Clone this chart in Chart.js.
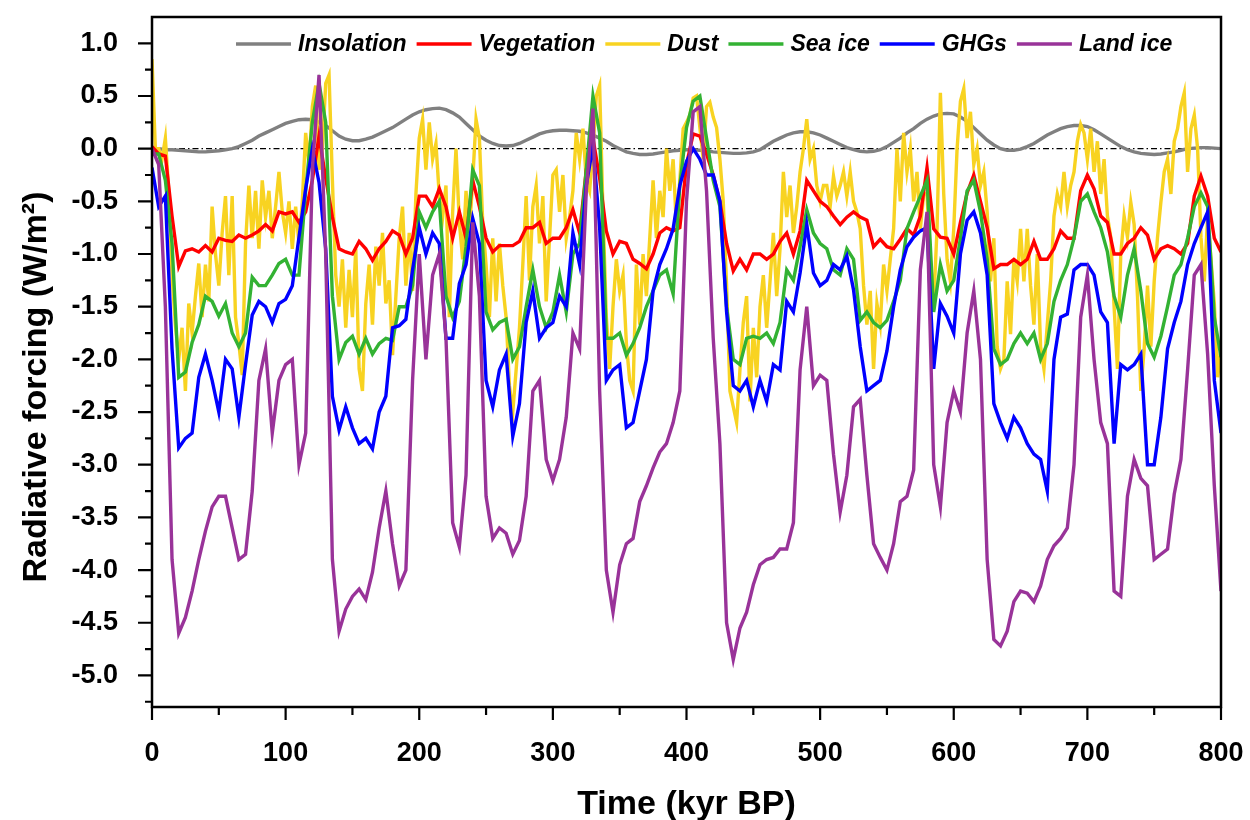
<!DOCTYPE html>
<html>
<head>
<meta charset="utf-8">
<script src="https://cdn.jsdelivr.net/npm/chart.js@4.4.0/dist/chart.umd.min.js"></script>
<style>
  html, body { margin: 0; padding: 0; background: #fff; }
  #wrap { width: 1250px; height: 820px; }
</style>
</head>
<body>
<div id="wrap"><canvas id="grafico" width="1250" height="820"></canvas></div>
<script>
// time axis (kyr BP), 5 kyr steps
const time = [
  0, 5, 10, 15, 20, 25, 30, 35, 40, 45,
  50, 55, 60, 65, 70, 75, 80, 85, 90, 95,
  100, 105, 110, 115, 120, 125, 130, 135, 140, 145,
  150, 155, 160, 165, 170, 175, 180, 185, 190, 195,
  200, 205, 210, 215, 220, 225, 230, 235, 240, 245,
  250, 255, 260, 265, 270, 275, 280, 285, 290, 295,
  300, 305, 310, 315, 320, 325, 330, 335, 340, 345,
  350, 355, 360, 365, 370, 375, 380, 385, 390, 395,
  400, 405, 410, 415, 420, 425, 430, 435, 440, 445,
  450, 455, 460, 465, 470, 475, 480, 485, 490, 495,
  500, 505, 510, 515, 520, 525, 530, 535, 540, 545,
  550, 555, 560, 565, 570, 575, 580, 585, 590, 595,
  600, 605, 610, 615, 620, 625, 630, 635, 640, 645,
  650, 655, 660, 665, 670, 675, 680, 685, 690, 695,
  700, 705, 710, 715, 720, 725, 730, 735, 740, 745,
  750, 755, 760, 765, 770, 775, 780, 785, 790, 795,
  800
];

const insolation = [
  0.0, 0.0, -0.01, -0.01, -0.015, -0.02, -0.025, -0.03, -0.03, -0.025,
  -0.02, -0.01, 0.0, 0.02, 0.05, 0.08, 0.12, 0.15, 0.18, 0.21,
  0.24, 0.26, 0.275, 0.28, 0.275, 0.25, 0.22, 0.17, 0.12, 0.09,
  0.075, 0.075, 0.09, 0.11, 0.14, 0.17, 0.2, 0.24, 0.28, 0.32,
  0.35, 0.37, 0.38, 0.385, 0.37, 0.34, 0.3, 0.24, 0.18, 0.12,
  0.08, 0.05, 0.03, 0.025, 0.03, 0.05, 0.08, 0.11, 0.14, 0.16,
  0.17, 0.175, 0.175, 0.17, 0.165, 0.15, 0.13, 0.1, 0.07, 0.03,
  0.0, -0.03, -0.045, -0.055, -0.055, -0.05, -0.04, -0.03, -0.02, -0.015,
  -0.01, -0.01, -0.015, -0.02, -0.03, -0.035, -0.04, -0.045, -0.045, -0.04,
  -0.03, -0.01, 0.03, 0.07, 0.1, 0.13, 0.15, 0.16, 0.16, 0.15,
  0.13, 0.1, 0.07, 0.04, 0.01, -0.01, -0.025, -0.03, -0.025, -0.01,
  0.02, 0.06, 0.1, 0.15, 0.19, 0.24, 0.28, 0.31, 0.33, 0.335,
  0.33, 0.3, 0.26, 0.2, 0.14, 0.08, 0.035, 0.0, -0.015, -0.015,
  -0.005, 0.02, 0.05, 0.09, 0.13, 0.16, 0.19, 0.21, 0.22, 0.22,
  0.21, 0.18, 0.14, 0.1, 0.06, 0.02, -0.01, -0.03, -0.045, -0.05,
  -0.055, -0.05, -0.04, -0.03, -0.015, 0.0, 0.005, 0.01, 0.01, 0.005,
  0.0
];

const vegetation = [
  0.02, -0.05, -0.07, -0.64, -1.12, -0.97, -0.95, -0.98, -0.92, -0.98,
  -0.85, -0.87, -0.88, -0.82, -0.85, -0.82, -0.78, -0.72, -0.78, -0.6,
  -0.62, -0.6, -0.7, -0.6, -0.3, 0.12, -0.28, -0.65, -0.95, -0.98,
  -1.0, -0.88, -0.95, -1.06, -0.95, -0.88, -0.78, -0.82, -1.0, -0.85,
  -0.45, -0.45, -0.55, -0.38, -0.55, -0.85, -0.6, -0.85, -0.3, -0.55,
  -0.85, -0.98, -0.92, -0.92, -0.92, -0.88, -0.75, -0.75, -0.7, -0.9,
  -0.85, -0.85, -0.75, -0.58, -0.8, -0.2, 0.1, -0.28, -0.78, -1.0,
  -0.88, -0.9, -1.05, -1.09, -1.14, -1.0, -0.8, -0.75, -0.78, -0.75,
  -0.15, 0.14, 0.12, -0.05, -0.25, -0.5, -0.9, -1.16, -1.05, -1.15,
  -1.0, -1.0, -1.05, -1.0, -0.88, -0.8, -1.0, -0.78, -0.3, -0.4,
  -0.5, -0.55, -0.64, -0.72, -0.65, -0.6, -0.65, -0.68, -0.93, -0.86,
  -0.93, -0.95, -0.86, -0.76, -0.82, -0.64, -0.18, -0.76, -0.84, -0.85,
  -1.0, -0.7, -0.42, -0.25, -0.5, -0.75, -1.14, -1.1, -1.1, -1.05,
  -1.1, -1.05, -0.88, -1.05, -1.05, -0.95, -0.78, -0.85, -0.85, -0.4,
  -0.25, -0.38, -0.64, -0.7, -1.0, -1.0, -0.9, -0.85, -0.75, -0.82,
  -1.05, -0.95, -0.92, -0.95, -1.0, -0.9, -0.45, -0.26, -0.45, -0.85,
  -0.98
];

const seaIce = [
  -0.05, -0.05, -0.3, -0.9, -2.17, -2.12, -1.84, -1.67, -1.4, -1.45,
  -1.59, -1.47, -1.75, -1.88, -1.75, -1.22, -1.3, -1.3, -1.2, -1.09,
  -1.05, -1.2, -1.2, -0.4, 0.25, 0.62, 0.25, -1.4, -2.0, -1.84,
  -1.78, -1.95, -1.8, -1.95, -1.85, -1.8, -1.82, -1.5, -1.5, -1.3,
  -0.6, -0.75, -0.6, -0.5, -1.4, -1.6, -1.45, -0.93, -0.2, -0.35,
  -1.55, -1.72, -1.65, -1.62, -2.0, -1.88, -1.5, -1.15, -1.5, -1.7,
  -1.55, -1.2, -1.55, -1.0, -0.9, -0.2, 0.5, 0.15, -1.8, -1.8,
  -1.75, -1.96, -1.85, -1.7, -1.5, -1.35, -1.2, -1.15, -1.38, -0.35,
  0.2, 0.45, 0.5, 0.1, -0.3, -0.55, -1.5, -2.0, -2.05, -1.8,
  -1.78, -1.8, -1.75, -1.85, -1.65, -1.15, -1.25, -0.93, -0.58, -0.8,
  -0.9, -0.95, -1.15, -1.2, -0.95, -1.05, -1.63, -1.55, -1.65, -1.7,
  -1.63, -1.45, -1.25, -0.76, -0.6, -0.45, -0.3, -1.55, -1.1, -1.35,
  -1.25, -0.85, -0.4, -0.3, -0.6, -1.05, -1.9, -2.05, -2.0, -1.85,
  -1.75, -1.85, -1.75, -2.0, -1.85, -1.45, -1.25, -1.1, -0.85, -0.5,
  -0.43, -0.6, -0.75, -0.98, -1.4, -1.6, -1.2, -0.95, -1.35, -1.85,
  -1.98, -1.78, -1.5, -1.2, -1.1, -0.85, -0.55, -0.42, -0.55, -1.6,
  -1.98
];

const ghgs = [
  -0.18, -0.55, -0.45, -1.9, -2.84, -2.75, -2.7, -2.17, -1.95, -2.2,
  -2.5, -2.0, -2.09, -2.55, -2.05, -1.58, -1.45, -1.5, -1.65, -1.47,
  -1.43, -1.3, -0.84, -0.38, 0.0, -0.32, -0.95, -2.35, -2.67, -2.45,
  -2.65, -2.8, -2.75, -2.85, -2.5, -2.35, -1.7, -1.68, -1.62, -1.15,
  -0.75, -1.0, -0.8, -0.9, -1.8, -1.8, -1.28, -1.1, -0.66, -0.9,
  -2.2, -2.45, -2.1, -1.95, -2.73, -2.42, -1.65, -1.35, -1.8, -1.7,
  -1.65, -1.4, -1.5, -0.8, -1.1, -0.35, 0.03, -0.75, -2.2, -2.1,
  -2.05, -2.65, -2.6, -2.3, -2.0, -1.35, -1.1, -0.95, -0.76, -0.35,
  -0.12, 0.0, -0.1, -0.25, -0.25, -0.5, -1.55, -2.25, -2.3, -2.2,
  -2.45, -2.2, -2.4, -2.05, -2.1, -1.45, -1.55, -1.18, -0.72, -1.18,
  -1.3, -1.25, -1.1, -1.15, -1.02, -1.34, -1.88, -2.3, -2.25, -2.2,
  -1.92, -1.5, -1.15, -0.93, -0.84, -0.78, -0.75, -2.09, -1.47, -1.59,
  -1.75, -1.0, -0.68, -0.6, -0.8, -1.2, -2.42, -2.6, -2.75, -2.55,
  -2.65, -2.8, -2.9, -2.95, -3.25, -2.0, -1.6, -1.57, -1.15, -1.1,
  -1.1, -1.2, -1.55, -1.65, -2.8, -2.05, -2.1, -2.05, -1.95, -3.0,
  -3.0, -2.55, -1.9, -1.65, -1.45, -1.1, -0.9, -0.75, -0.6, -2.2,
  -2.7
];

const landIce = [
  0.0, -0.15, -1.5, -3.9, -4.6, -4.45, -4.2, -3.9, -3.63, -3.4,
  -3.3, -3.3, -3.6, -3.9, -3.85, -3.25, -2.2, -1.9, -2.7, -2.2,
  -2.05, -2.0, -3.0, -2.7, -0.2, 0.7, -1.0, -3.9, -4.58, -4.37,
  -4.25, -4.18, -4.28, -4.02, -3.6, -3.25, -3.75, -4.15, -4.0, -2.2,
  -1.0, -2.0, -1.2, -1.0, -1.8, -3.55, -3.78, -3.1, -0.7, -1.4,
  -3.3, -3.7, -3.6, -3.65, -3.85, -3.72, -3.3, -2.3, -2.2, -2.95,
  -3.15, -2.95, -2.55, -1.75, -1.9, -0.4, 0.38, -2.3, -4.0, -4.4,
  -3.95, -3.75, -3.7, -3.35, -3.2, -3.03, -2.88, -2.8, -2.6, -2.3,
  -0.5, 0.35, 0.4, -0.4, -1.8, -2.8, -4.5, -4.85, -4.55, -4.4,
  -4.14, -3.95, -3.9, -3.88, -3.8, -3.8, -3.55, -2.1, -1.5, -2.25,
  -2.15, -2.2, -2.9, -3.45, -3.1, -2.45, -2.38, -3.1, -3.75, -3.88,
  -4.0, -3.75, -3.35, -3.3, -3.05, -1.15, -0.6, -3.0, -3.4, -2.6,
  -2.3, -2.5, -1.75, -1.35, -2.0, -3.9, -4.66, -4.72, -4.58, -4.3,
  -4.2, -4.22, -4.3, -4.15, -3.9, -3.77, -3.7, -3.6, -3.0, -1.6,
  -1.2, -2.0, -2.6, -2.8, -4.2, -4.25, -3.3, -2.95, -3.13, -3.2,
  -3.9, -3.85, -3.8, -3.28, -2.95, -2.1, -1.2, -1.1, -1.95, -3.2,
  -4.2
];

// dust is noisier, read at 2.5 kyr steps
const dustTime = [
  0, 2.5, 5, 7.5, 10, 12.5, 15, 17.5, 20, 22.5, 25, 27.5, 30, 32.5, 35, 37.5, 40, 42.5, 45, 47.5,
  50, 52.5, 55, 57.5, 60, 62.5, 65, 67.5, 70, 72.5, 75, 77.5, 80, 82.5, 85, 87.5, 90, 92.5, 95, 97.5,
  100, 102.5, 105, 107.5, 110, 112.5, 115, 117.5, 120, 122.5, 125, 127.5, 130, 132.5, 135, 137.5, 140, 142.5, 145, 147.5,
  150, 152.5, 155, 157.5, 160, 162.5, 165, 167.5, 170, 172.5, 175, 177.5, 180, 182.5, 185, 187.5, 190, 192.5, 195, 197.5,
  200, 202.5, 205, 207.5, 210, 212.5, 215, 217.5, 220, 222.5, 225, 227.5, 230, 232.5, 235, 237.5, 240, 242.5, 245, 247.5,
  250, 252.5, 255, 257.5, 260, 262.5, 265, 267.5, 270, 272.5, 275, 277.5, 280, 282.5, 285, 287.5, 290, 292.5, 295, 297.5,
  300, 302.5, 305, 307.5, 310, 312.5, 315, 317.5, 320, 322.5, 325, 327.5, 330, 332.5, 335, 337.5, 340, 342.5, 345, 347.5,
  350, 352.5, 355, 357.5, 360, 362.5, 365, 367.5, 370, 372.5, 375, 377.5, 380, 382.5, 385, 387.5, 390, 392.5, 395, 397.5,
  400, 402.5, 405, 407.5, 410, 412.5, 415, 417.5, 420, 422.5, 425, 427.5, 430, 432.5, 435, 437.5, 440, 442.5, 445, 447.5,
  450, 452.5, 455, 457.5, 460, 462.5, 465, 467.5, 470, 472.5, 475, 477.5, 480, 482.5, 485, 487.5, 490, 492.5, 495, 497.5,
  500, 502.5, 505, 507.5, 510, 512.5, 515, 517.5, 520, 522.5, 525, 527.5, 530, 532.5, 535, 537.5, 540, 542.5, 545, 547.5,
  550, 552.5, 555, 557.5, 560, 562.5, 565, 567.5, 570, 572.5, 575, 577.5, 580, 582.5, 585, 587.5, 590, 592.5, 595, 597.5,
  600, 602.5, 605, 607.5, 610, 612.5, 615, 617.5, 620, 622.5, 625, 627.5, 630, 632.5, 635, 637.5, 640, 642.5, 645, 647.5,
  650, 652.5, 655, 657.5, 660, 662.5, 665, 667.5, 670, 672.5, 675, 677.5, 680, 682.5, 685, 687.5, 690, 692.5, 695, 697.5,
  700, 702.5, 705, 707.5, 710, 712.5, 715, 717.5, 720, 722.5, 725, 727.5, 730, 732.5, 735, 737.5, 740, 742.5, 745, 747.5,
  750, 752.5, 755, 757.5, 760, 762.5, 765, 767.5, 770, 772.5, 775, 777.5, 780, 782.5, 785, 787.5, 790, 792.5, 795, 797.5,
  800
];

const dust = [
  0.85, 0.0, 0.0, -0.1, 0.1, -0.4, -1.2, -1.67, -2.0, -1.7, -2.3, -1.47, -1.75, -1.4, -1.09, -1.6, -1.1, -1.45, -0.55, -1.0,
  -1.3, -0.8, -0.45, -1.2, -0.45, -1.6, -1.85, -2.15, -0.9, -0.35, -0.85, -0.4, -0.95, -0.3, -0.65, -0.4, -0.85, -0.55, -0.22, -0.6,
  -0.8, -0.5, -0.95, -0.55, -0.9, -0.5, 0.15, -0.15, 0.4, 0.6, -0.2, 0.0, 0.62, 0.7, -0.3, -1.2, -1.5, -1.05, -1.7, -1.15,
  -1.6, -0.95, -2.09, -2.3, -1.47, -1.1, -1.67, -0.93, -1.3, -0.8, -1.47, -1.25, -1.96, -1.4, -0.85, -0.55, -1.3, -0.8, -1.35, -0.43,
  0.1, 0.28, -0.2, 0.25, -0.1, 0.05, -0.45, -0.65, -0.35, -1.6, -0.6, 0.0, -0.7, -1.05, -0.4, -0.8, -0.3, 0.28, 0.1, -0.7,
  -1.1, -1.6, -0.85, -1.45, -0.9, -1.3, -1.6, -2.25, -2.5, -2.1, -1.7, -1.1, -0.45, -1.25, -0.55, -0.35, -0.9, -0.45, -1.45, -0.85,
  -0.25, -0.2, -0.6, -0.25, -0.85, -0.65, -0.4, 0.15, -0.1, 0.19, -0.3, -0.4, 0.0, 0.5, 0.6, -0.6, -1.6, -2.09, -1.5, -1.05,
  -1.35, -1.2, -1.85, -2.2, -2.3, -1.1, -1.67, -1.0, -1.4, -0.85, -0.3, -0.85, -0.4, -0.65, 0.0, -0.4, -0.1, -0.75, -0.3, 0.19,
  0.25, 0.32, 0.48, 0.5, 0.2, -0.1, 0.4, 0.44, 0.3, 0.2, -0.1, -0.5, -1.3, -2.3, -2.45, -2.6, -2.1, -1.65, -1.4, -2.4,
  -1.7, -2.17, -1.5, -1.2, -1.7, -1.26, -0.8, -1.4, -0.95, -0.22, -0.65, -0.35, -0.8, -0.55, -0.22, 0.0, 0.28, -0.1, 0.0, -0.35,
  -0.5, -0.35, -0.35, -0.55, -0.26, -0.45, -0.35, -0.22, -0.45, -0.22, -0.5, -0.6, -0.76, -1.3, -1.67, -1.35, -2.09, -1.47, -1.67, -1.1,
  -1.35, -1.05, -0.76, 0.0, -0.5, 0.15, -0.22, 0.0, -0.5, -0.22, -0.76, -0.43, -0.43, -1.05, -1.47, -0.76, 0.53, -0.43, -1.05, -1.26,
  -0.76, 0.0, 0.45, 0.57, 0.1, 0.35, -0.15, 0.0, -0.35, -0.22, -0.6, -1.26, -0.85, -1.88, -2.09, -2.0, -1.26, -1.76, -1.05, -1.26,
  -0.76, -1.26, -0.76, -1.3, -1.67, -1.0, -1.88, -2.09, -1.67, -1.26, -0.64, -0.43, -0.55, -0.22, -0.55, -0.35, -0.22, 0.07, 0.23, 0.15,
  -0.1, 0.19, -0.22, 0.07, -0.43, -0.1, -0.64, -0.84, -1.5, -2.09, -1.0, -0.64, -0.84, -0.51, -0.72, -1.4, -2.3, -1.9, -1.3, -1.88,
  -1.26, -0.84, -0.51, -0.22, -0.1, -0.43, 0.07, 0.19, 0.4, 0.53, -0.22, 0.19, 0.32, 0.0, -0.84, -1.26, -0.64, -1.05, -1.47, -2.17,
  -1.9
];

const zeroLine = [0, 0];
const zeroTime = [0, 800];

const xMajorTicks = [0, 100, 200, 300, 400, 500, 600, 700, 800];
const xMinorTicks = [50, 150, 250, 350, 450, 550, 650, 750];
const yMajorTicks = [-5.0, -4.5, -4.0, -3.5, -3.0, -2.5, -2.0, -1.5, -1.0, -0.5, 0.0, 0.5, 1.0];
const yMinorTicks = [-5.25, -4.75, -4.25, -3.75, -3.25, -2.75, -2.25, -1.75, -1.25, -0.75, -0.25, 0.25, 0.75];

const FONTE = '"Liberation Sans", Arial, Helvetica, sans-serif';

function pares(xs, ys) {
  return xs.map((x, i) => ({ x: x, y: ys[i] }));
}

// tick marks, frame and y title
const eixos = {
  id: 'eixos',
  afterDraw(chart) {
    const { ctx, chartArea: a, scales: { x, y } } = chart;
    ctx.save();
    ctx.strokeStyle = '#000';
    ctx.lineWidth = 2.2;
    ctx.beginPath();
    xMajorTicks.forEach(v => {
      const px = x.getPixelForValue(v);
      ctx.moveTo(px, a.bottom); ctx.lineTo(px, a.bottom + 13);
    });
    xMinorTicks.forEach(v => {
      const px = x.getPixelForValue(v);
      ctx.moveTo(px, a.bottom); ctx.lineTo(px, a.bottom + 8);
    });
    yMajorTicks.forEach(v => {
      const py = y.getPixelForValue(v);
      ctx.moveTo(a.left, py); ctx.lineTo(a.left - 14, py);
    });
    yMinorTicks.forEach(v => {
      const py = y.getPixelForValue(v);
      ctx.moveTo(a.left, py); ctx.lineTo(a.left - 7, py);
    });
    ctx.stroke();

    ctx.lineWidth = 2.5;
    ctx.strokeRect(a.left, a.top, a.right - a.left, a.bottom - a.top);

    ctx.translate(37, 387);
    ctx.rotate(-Math.PI / 2);
    ctx.font = 'bold 34px ' + FONTE;
    ctx.fillStyle = '#000';
    ctx.textAlign = 'center';
    ctx.textBaseline = 'middle';
    ctx.fillText('Radiative forcing (W/m²)', 0, 0);
    ctx.restore();
  }
};

// legend drawn inside the plot area
const legenda = {
  id: 'legenda',
  afterDraw(chart) {
    const ctx = chart.ctx;
    ctx.save();
    ctx.font = 'italic bold 23px ' + FONTE;
    ctx.textBaseline = 'middle';
    let x = 236;
    const y = 44;
    chart.data.datasets.forEach(ds => {
      if (ds.semLegenda) return;
      ctx.strokeStyle = ds.borderColor;
      ctx.lineWidth = 3.5;
      ctx.beginPath();
      ctx.moveTo(x, y);
      ctx.lineTo(x + 55, y);
      ctx.stroke();
      x += 62;
      ctx.fillStyle = '#000';
      ctx.fillText(ds.label, x, y + 1);
      x += ctx.measureText(ds.label).width + 10;
    });
    ctx.restore();
  }
};

const ctx = document.getElementById('grafico').getContext('2d');
new Chart(ctx, {
  type: 'line',
  data: {
    datasets: [
      { label: 'Insolation', data: pares(time, insolation), borderColor: '#808080', order: 6 },
      { label: 'Vegetation', data: pares(time, vegetation), borderColor: '#ff0000', order: 4 },
      { label: 'Dust', data: pares(dustTime, dust), borderColor: '#f8d321', order: 5 },
      { label: 'Sea ice', data: pares(time, seaIce), borderColor: '#33b233', order: 3 },
      { label: 'GHGs', data: pares(time, ghgs), borderColor: '#0000ff', order: 2 },
      { label: 'Land ice', data: pares(time, landIce), borderColor: '#993399', order: 1 },
      { label: 'zero', data: pares(zeroTime, zeroLine), borderColor: '#000', borderWidth: 1.2,
        borderDash: [6, 3, 1.5, 3], order: 7, semLegenda: true }
    ]
  },
  options: {
    responsive: false,
    animation: false,
    devicePixelRatio: 1,
    layout: { padding: { top: 17, right: 29, left: 0, bottom: 0 } },
    elements: {
      point: { radius: 0 },
      line: { tension: 0, borderWidth: 3.4, fill: false }
    },
    plugins: {
      legend: { display: false },
      tooltip: { enabled: false }
    },
    scales: {
      x: {
        type: 'linear',
        min: 0,
        max: 800,
        grid: { display: false, drawTicks: false },
        border: { display: false },
        ticks: {
          stepSize: 100,
          padding: 30,
          maxRotation: 0,
          autoSkip: false,
          color: '#000',
          font: { family: FONTE, size: 27, weight: 'bold' }
        },
        title: {
          display: true,
          text: 'Time (kyr BP)',
          color: '#000',
          font: { family: FONTE, size: 34, weight: 'bold', lineHeight: 0.9 },
          padding: { top: 0, bottom: 0 }
        },
        afterFit(s) {
          s.height = 113;
          s.paddingLeft = 0;
          s.paddingRight = 0;
        }
      },
      y: {
        min: -5.3,
        max: 1.25,
        grid: { display: false, drawTicks: false },
        border: { display: false },
        ticks: {
          stepSize: 0.5,
          includeBounds: false,
          padding: 34,
          autoSkip: false,
          color: '#000',
          font: { family: FONTE, size: 27, weight: 'bold' },
          callback: v => (Math.round(v * 10) / 10).toFixed(1)
        },
        afterFit(s) {
          s.width = 152;
          s.paddingTop = 0;
          s.paddingBottom = 0;
        }
      }
    }
  },
  plugins: [eixos, legenda]
});
</script>
</body>
</html>
